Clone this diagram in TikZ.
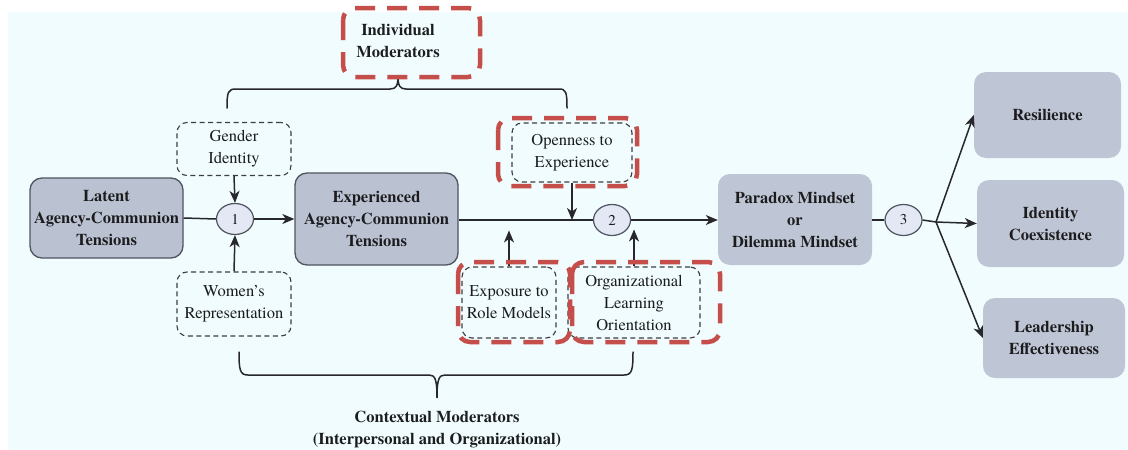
\documentclass[tikz,border=0pt]{standalone}
\usepackage{fontspec}
\setmainfont{texgyretermes}[Extension=.otf, UprightFont=*-regular, BoldFont=*-bold, ItalicFont=*-italic, BoldItalicFont=*-bolditalic]
\usetikzlibrary{arrows.meta,shapes.geometric}
\definecolor{bgc}{RGB}{240,252,253}
\definecolor{ink}{RGB}{28,28,30}
\definecolor{boxA}{RGB}{186,193,209}
\definecolor{boxB}{RGB}{190,197,212}
\definecolor{edge}{RGB}{80,84,94}
\definecolor{dashc}{RGB}{60,62,66}
\definecolor{lnc}{RGB}{40,40,44}
\definecolor{modfill}{RGB}{228,232,245}
\definecolor{hl}{RGB}{198,78,74}
\begin{document}
\begin{tikzpicture}[x=1pt,y=-1pt]
\tikzset{
  txt/.style={font=\fontsize{16.5}{22}\selectfont, text=ink, align=center, inner sep=0pt},
  bold/.style={txt, font=\fontsize{16.5}{22}\selectfont\bfseries},
  solidbox/.style={bold, rectangle, rounded corners=12, fill=boxA, draw=edge, line width=1.3},
  plainbox/.style={bold, rectangle, rounded corners=12, fill=boxB},
  dashbox/.style={txt, rectangle, rounded corners=10, draw=dashc, line width=1.1, dash pattern=on 5pt off 3.5pt},
  modnode/.style={ellipse, minimum width=37, minimum height=31, inner sep=0pt, fill=modfill, draw=edge, line width=1.2, font=\fontsize{15}{18}\selectfont, text=ink},
  flow/.style={draw=lnc, line width=1.5},
  arr/.style={flow, -{Stealth[length=12pt,width=10pt,inset=3.5pt]}},
  brc/.style={draw=lnc, line width=1.5, line cap=round},
  hlbox/.style={draw=hl, line width=4.5, dash pattern=on 20pt off 12pt, rounded corners=12}
}
\useasboundingbox (0,0) rectangle (1128,450);
\fill[white] (0,0) rectangle (1128,450);
\fill[bgc] (8,12) rectangle (1128,450);

% main chain
\node[solidbox, minimum width=153, minimum height=80] (latent) at (106.5,218) {Latent\\Agency-Communion\\Tensions};
\node[modnode] (c1) at (235,219) {1};
\node[solidbox, minimum width=163, minimum height=92] (exper) at (376.5,219) {Experienced\\Agency-Communion\\Tensions};
\node[modnode] (c2) at (612,220) {2};
\node[plainbox, minimum width=154, minimum height=91] (mind) at (795,219.5) {Paradox Mindset\\or\\Dilemma Mindset};
\node[modnode] (c3) at (903.5,220) {3};

% outcomes
\node[plainbox, minimum width=147, minimum height=86] (resil) at (1047.5,115) {Resilience};
\node[plainbox, minimum width=147, minimum height=87] (ident) at (1050.5,223.5) {Identity\\Coexistence};
\node[plainbox, minimum width=142, minimum height=80] (lead) at (1054,338) {Leadership\\Effectiveness};

% moderators
\node[dashbox, minimum width=114, minimum height=53] (gender) at (234,149) {Gender\\Identity};
\node[dashbox, minimum width=114, minimum height=64] (women) at (234,304) {Women's\\Representation};
\node[dashbox, minimum width=120, minimum height=59] (open) at (572,152.5) {Openness to\\Experience};
\node[dashbox, minimum width=94, minimum height=71] (expo) at (509,302.5) {Exposure to\\Role Models};
\node[dashbox, minimum width=132, minimum height=71] (org) at (634,302.5) {Organizational\\Learning\\Orientation};

% group labels
\node[bold] (indiv) at (398,41) {Individual\\Moderators};
\node[bold] (ctx) at (437,429) {Contextual Moderators\\(Interpersonal and Organizational)};

% connectors
\draw[flow] (latent.east) -- (c1.west);
\draw[arr] (c1.east) -- (exper.west);
\draw[flow] (exper.east |- c2.west) -- (c2.west);
\draw[arr] (c2.east) -- (mind.west |- c2.east);
\draw[flow] (mind.east |- c3.west) -- (c3.west);
\coordinate (split) at (936,222);
\draw[flow] (c3.east) -- (split);
\draw[arr] (split) -- (resil.west);
\draw[arr] (split) -- (ident.west);
\draw[arr] (split) -- (lead.west);

\draw[arr] (gender.south) -- (c1.north);
\draw[arr] (women.north) -- (c1.south);
\draw[arr] (open.south) -- (open.south |- c2.west);
\draw[arr] (expo.north) -- ++(0,-36);
\draw[arr] (org.north) -- ++(0,-37);

% braces
\draw[brc] (227,108) .. controls (227,92) and (228,89) .. (236,89) -- (390,89)
  .. controls (396,89) and (398,86) .. (398,76)
  .. controls (398,86) and (400,89) .. (406,89) -- (559,89)
  .. controls (566,89) and (567,92) .. (567,108);
\draw[brc] (239,352) .. controls (239,370) and (240,375) .. (248,375) -- (429,375)
  .. controls (435,375) and (437,379) .. (437,398)
  .. controls (437,379) and (439,375) .. (445,375) -- (624,375)
  .. controls (632,375) and (633,370) .. (633,352);

% highlighted frames
\draw[hlbox] (343,8) rectangle (480,77);
\draw[hlbox] (498,118) rectangle (637,186);
\draw[hlbox] (458,262) rectangle (570,342);
\draw[hlbox] (572,262) rectangle (720,342);
\end{tikzpicture}
\end{document}
